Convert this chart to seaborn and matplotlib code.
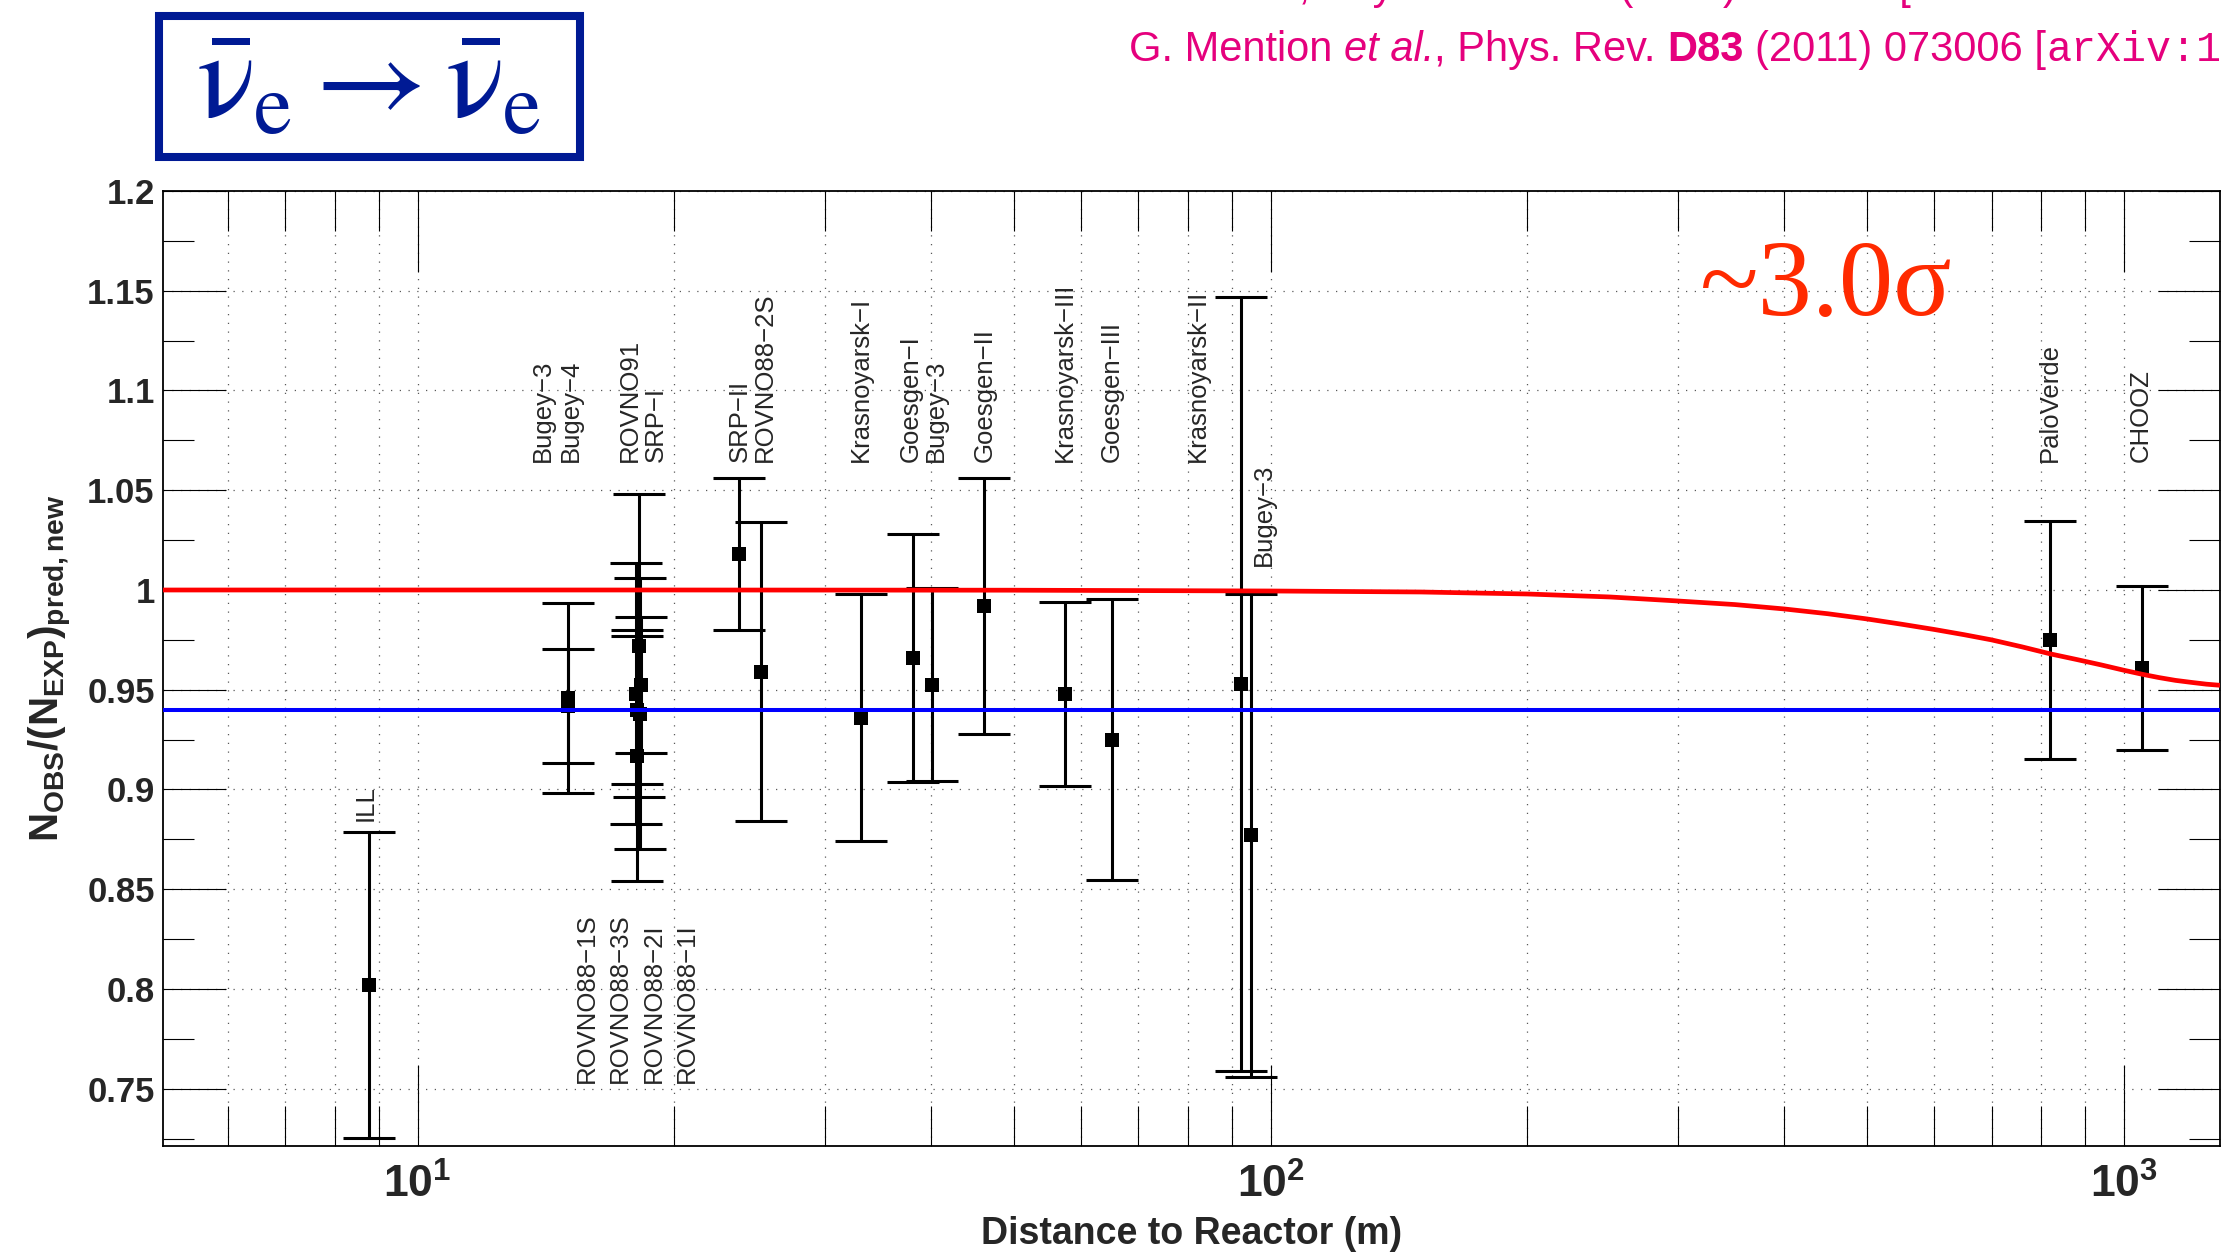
# plot.py
# reactor antineutrino anomaly: observed / predicted rate vs distance to reactor

import numpy as np
import pandas as pd
from matplotlib import pyplot as plt
from matplotlib.patches import Rectangle
from matplotlib.ticker import MultipleLocator, NullFormatter
import seaborn as sns

# global settings (font settings after set_style, which resets them)
sns.set_style("ticks")
plt.rcParams['font.family'] = ['Liberation Sans', 'DejaVu Sans']
plt.rcParams['mathtext.fontset'] = 'custom'
plt.rcParams['mathtext.rm'] = 'Liberation Sans'
plt.rcParams['mathtext.it'] = 'Liberation Sans:italic'
plt.rcParams['mathtext.bf'] = 'Liberation Sans:bold'

experiments = ['ILL', 'Bugey-4', 'Bugey-3', 'ROVNO91', 'ROVNO88-1I', 'ROVNO88-2I',
               'ROVNO88-1S', 'ROVNO88-3S', 'SRP-I', 'SRP-II', 'ROVNO88-2S',
               'Krasnoyarsk-I', 'Goesgen-I', 'Bugey-3', 'Goesgen-II', 'Krasnoyarsk-III',
               'Goesgen-III', 'Krasnoyarsk-II', 'Bugey-3', 'PaloVerde', 'CHOOZ']
distance = [8.76, 15.0, 15.0, 18.03, 18.07, 18.07, 18.2, 18.22, 18.27, 23.8, 25.3,
            33.1, 38.1, 40.1, 46.1, 57.4, 65.2, 92.3, 94.9, 819.6, 1050]
ratio = [0.802, 0.942, 0.946, 0.948, 0.917, 0.940, 0.972, 0.938, 0.9525, 1.018, 0.959,
         0.936, 0.966, 0.9525, 0.992, 0.948, 0.925, 0.953, 0.877, 0.975, 0.961]
error = [0.0765, 0.0285, 0.0476, 0.0655, 0.063, 0.037, 0.076, 0.068, 0.034, 0.038, 0.075,
         0.062, 0.062, 0.0483, 0.064, 0.046, 0.0705, 0.194, 0.121, 0.0597, 0.041]

# oscillation curve (red) and mean ratio (blue)
curve_distance = [5, 20, 50, 100, 150, 200, 250, 300, 350, 400, 450, 500, 550, 600, 650,
                  700, 760, 820, 880, 940, 1000, 1050, 1100, 1150, 1200, 1250, 1300]
curve_ratio = [1.0, 1.0, 0.9999, 0.9995, 0.999, 0.998, 0.9965, 0.9945, 0.9927, 0.9905,
               0.9881, 0.9855, 0.9828, 0.9802, 0.9776, 0.975, 0.9715, 0.968, 0.9652,
               0.9625, 0.9598, 0.9578, 0.9561, 0.9547, 0.9537, 0.9528, 0.9522]
mean_ratio = 0.940

# experiment labels
top_labels = ['Bugey−3', 'Bugey−4', 'ROVNO91', 'SRP−I', 'SRP−II', 'ROVNO88−2S',
              'Krasnoyarsk−I', 'Goesgen−I', 'Bugey−3', 'Goesgen−II', 'Krasnoyarsk−III',
              'Goesgen−III', 'Krasnoyarsk−II', 'PaloVerde', 'CHOOZ']
top_label_x = [14.04, 15.14, 17.74, 19.0, 23.85, 25.55, 33.1, 37.84, 40.54, 46.2, 57.4,
               65.2, 82.2, 819, 1047]
bottom_labels = ['ROVNO88−1S', 'ROVNO88−3S', 'ROVNO88−2I', 'ROVNO88−1I']
bottom_label_x = [15.8, 17.27, 18.92, 20.7]
extra_labels = ['ILL', 'Bugey−3']
extra_label_x = [8.69, 98.2]
extra_label_y = [0.884, 1.012]

ytick_values = [0.75, 0.8, 0.85, 0.9, 0.95, 1.0, 1.05, 1.1, 1.15, 1.2]
ytick_labels = ['0.75', '0.8', '0.85', '0.9', '0.95', '1', '1.05', '1.1', '1.15', '1.2']
xtick_values = [10, 100, 1000]
xtick_labels = [r'$\mathbf{10^{1}}$', r'$\mathbf{10^{2}}$', r'$\mathbf{10^{3}}$']

# citations (the first one is cut by the top edge, as in the source slide)
mueller_ref = 'Th. Mueller et al., Phys. Rev. C83 (2011) 054615 [arXiv:1101.2663'
normal, italic, bold = {}, {'style': 'italic'}, {'weight': 'bold'}
mono = {'family': ['Liberation Mono', 'DejaVu Sans Mono']}
mention_ref = [('G. Mention ', normal), ('et al.', italic), (', Phys. Rev. ', normal),
               ('D83 ', bold), ('(2011) 073006 [', normal), ('arXiv:1101.2755]', mono)]

df = pd.DataFrame({'experiment': experiments, 'distance': distance,
                   'ratio': ratio, 'error': error})

W, H = 2223, 1254
fig = plt.figure(figsize=(W / 100, H / 100), dpi=100)
ax = fig.add_axes([163 / W, 1 - 1146 / H, (2220 - 163) / W, (1146 - 191) / H])

# data
ax.errorbar(df['distance'], df['ratio'], yerr=df['error'], fmt='none', ecolor='black',
            elinewidth=2.2, capsize=18.4, capthick=2.2, zorder=3)
sns.scatterplot(data=df, x='distance', y='ratio', marker='s', s=115, color='black',
                edgecolor='black', linewidth=0, ax=ax, zorder=4, legend=False)
sns.lineplot(x=curve_distance, y=curve_ratio, color='#ff0000', linewidth=3.4, ax=ax, zorder=5)
ax.axhline(mean_ratio, color='#0000ff', linewidth=2.9, zorder=5)

# axes formatting
ax.set_xscale('log')
ax.set_xlim(5.03, 1297)
ax.set_ylim(0.7213, 1.2)
ax.set_yticks(ytick_values, labels=ytick_labels, fontsize=25, fontweight='bold')
ax.yaxis.set_minor_locator(MultipleLocator(0.025))
ax.set_xticks(xtick_values, labels=xtick_labels, fontsize=32)
ax.xaxis.set_minor_formatter(NullFormatter())

ax.tick_params(which='both', direction='in', top=True, right=True, color='black')
ax.tick_params(axis='y', which='major', length=45, width=0.8, pad=6)
ax.tick_params(axis='y', which='minor', length=22, width=0.8)
ax.tick_params(axis='x', which='major', length=58, width=0.8, pad=13)
ax.tick_params(axis='x', which='minor', length=29, width=0.8)

ax.grid(True, axis='y', which='major', linestyle=(0, (1, 6)), color='0.35', linewidth=0.9)
ax.grid(True, axis='x', which='both', linestyle=(0, (1, 6)), color='0.35', linewidth=0.9)
for spine in ax.spines.values():
    spine.set_linewidth(1.3)
    spine.set_color('black')

ax.set_xlabel('Distance to Reactor (m)', fontsize=27, fontweight='bold')
ax.xaxis.set_label_coords(0.5, -0.073)
ax.set_ylabel(r'$\mathbf{N_{OBS}/(N_{EXP})_{pred,new}}$', fontsize=29)
ax.yaxis.set_label_coords(-0.0433, 0.5)

# experiment names
for name, x in zip(top_labels, top_label_x):
    ax.text(x, 1.064, name, rotation=90, ha='center', va='bottom', fontsize=18.5)
for name, x in zip(bottom_labels, bottom_label_x):
    ax.text(x, 0.7527, name, rotation=90, ha='center', va='bottom', fontsize=18.5)
for name, x, y in zip(extra_labels, extra_label_x, extra_label_y):
    ax.text(x, y, name, rotation=90, ha='center', va='bottom', fontsize=18.5)

ax.text(1700 / W, 1 - 315 / H, '~3.0σ', transform=fig.transFigure, fontsize=78,
        family=['Liberation Serif', 'DejaVu Serif'], color='#ff2a00', va='baseline')

# channel box
fig.add_artist(Rectangle((159 / W, 1 - 157 / H), 421 / W, 141 / H, transform=fig.transFigure,
                         fill=False, edgecolor='#001a94', linewidth=5.8))
fig.text(369 / W, 1 - 86 / H,
         r'$\bar{\mathrm{\nu}}_\mathrm{e} \rightarrow \bar{\mathrm{\nu}}_\mathrm{e}$',
         math_fontfamily='stix', fontsize=88, color='#001a94', ha='center', va='center')


def draw_citation(x, y, pieces, size=30, color='#e5007d'):
    # lay the differently styled pieces one after another on a shared baseline
    renderer = fig.canvas.get_renderer()
    space = 0.278 * size * 100 / 72
    for piece, style in pieces:
        word = piece.rstrip(' ')
        t = fig.text(x / W, y, word, fontsize=size, color=color, va='baseline', **style)
        x = t.get_window_extent(renderer).x1 + space * (len(piece) - len(word))


fig.text(989 / W, 1 + 1 / H, mueller_ref, fontsize=30, color='#e5007d', va='baseline')
draw_citation(1129, 1 - 61 / H, mention_ref)

fig.savefig('out.png', dpi=100)
